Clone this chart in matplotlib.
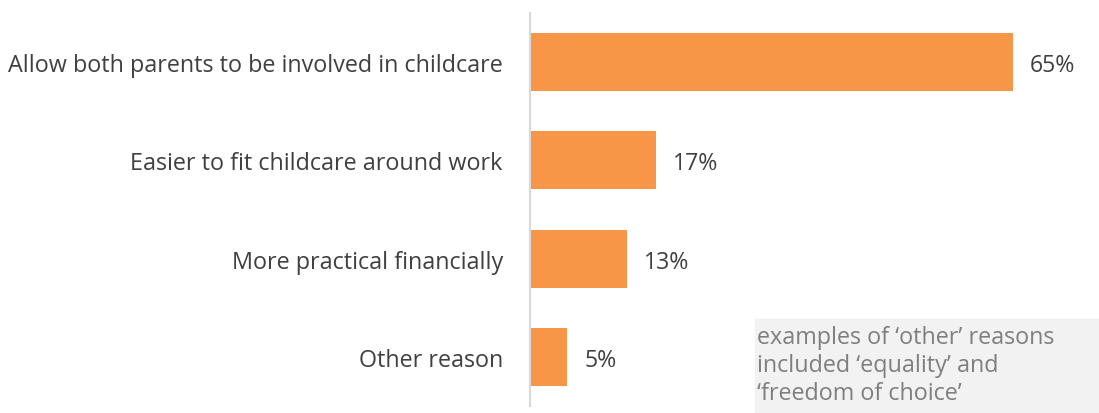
import matplotlib.pyplot as plt
from matplotlib.patches import Rectangle

# Reasons for sharing parental leave
reasons = ['Allow both parents to be involved in childcare',
           'Easier to fit childcare around work',
           'More practical financially',
           'Other reason']
shares = [65, 17, 13, 5]

plt.rcParams['font.family'] = ['Open Sans', 'DejaVu Sans']

fig = plt.figure(figsize=(10.99, 4.14), dpi=100)
ax = fig.add_axes([530 / 1099, 1 - 407 / 414, 569 / 1099, 393 / 414])

pos = list(range(len(reasons)))
bars = ax.barh(pos, shares, height=0.59, color='#F79646')
ax.set_ylim(len(reasons) - 0.5, -0.5)
ax.set_xlim(0, 76.6)

for b, v in zip(bars, shares):
    ax.text(b.get_width() + 2.3, b.get_y() + b.get_height() / 2, f'{v}%',
            va='center_baseline', ha='left', fontsize=16.7, color='#404040')

ax.set_yticks(pos)
ax.set_yticklabels(reasons, fontsize=16.8, color='#404040')
ax.tick_params(axis='y', length=0, pad=19.5)
ax.set_xticks([])
for s in ['top', 'right', 'bottom']:
    ax.spines[s].set_visible(False)
ax.spines['left'].set_color('#d9d9d9')
ax.spines['left'].set_linewidth(1.5)

# note box in the lower right corner
fig.patches.append(Rectangle((755 / 1099, 0), 344 / 1099, 94 / 414,
                             transform=fig.transFigure, color='#f2f2f2', zorder=0))
fig.text(757 / 1099, 1 - 326 / 414,
         'examples of \u2018other\u2019 reasons\nincluded \u2018equality\u2019 and\n\u2018freedom of choice\u2019',
         ha='left', va='top', fontsize=16.8, color='#7f7f7f', linespacing=1.22)

fig.savefig('out.png', dpi=100)
